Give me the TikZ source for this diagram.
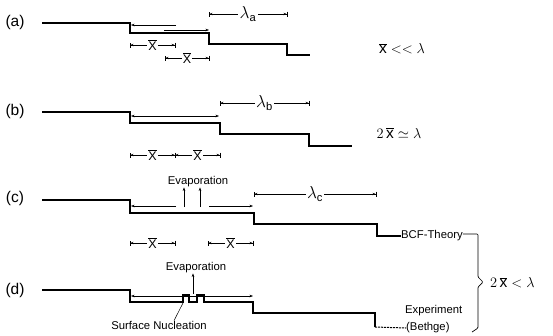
\documentclass[tikz,border=0pt]{standalone}
\usepackage{fontspec}
\setmainfont{Liberation Sans}
\usetikzlibrary{arrows.meta}
\tikzset{
  prof/.style={line width=1.3pt},
  thin arrow/.style={line width=0.5pt,-{Stealth[length=3.5pt,width=2.6pt]}},
  both arrow/.style={line width=0.5pt,{Stealth[length=3.5pt,width=2.6pt]}-{Stealth[length=3.5pt,width=2.6pt]}},
  dimline/.style={line width=0.5pt,{Bar[width=5pt]Stealth[length=3pt,width=2.4pt]}-{Stealth[length=3pt,width=2.4pt]Bar[width=5pt]}},
  dimlbl/.style={fill=white,inner sep=1pt,font=\fontsize{12.5}{13}\selectfont},
  lamlbl/.style={fill=white,inner sep=1.5pt,font=\fontsize{16}{17}\selectfont},
  lbl/.style={inner sep=0pt,font=\fontsize{11.3}{12}\selectfont},
  part/.style={inner sep=0pt,font=\fontsize{15.5}{17}\selectfont},
  rel/.style={inner sep=0pt,font=\fontsize{15.5}{16}\selectfont},
}
\newcommand{\xb}{$\overline{\mbox{X}}$}
\begin{document}
\begin{tikzpicture}[x=1pt,y=-1pt]
\useasboundingbox (0,0) rectangle (553,335);
% ---------------- (a)
\node[part] (la) at (15,22) {(a)};
\draw[prof] (42,23) -- (130,23) -- (130,33) -- (209,33) -- (209,44) -- (287,44) -- (287,55) -- (310,55);
\coordinate (a1s) at (176,25); \coordinate (a1e) at (131,25);
\coordinate (a2s) at (164,30); \coordinate (a2e) at (209,30);
\draw[thin arrow] (a1s) -- (a1e);
\draw[thin arrow] (a2s) -- (a2e);
\coordinate (ad1) at (130,45); \coordinate (ad2) at (175,45);
\coordinate (ad3) at (165,58); \coordinate (ad4) at (209,58);
\draw[dimline] (ad1) -- node[dimlbl] (xa1) {\xb} (ad2);
\draw[dimline] (ad3) -- node[dimlbl] (xa2) {\xb} (ad4);
\coordinate (lam1) at (209,14); \coordinate (lam2) at (287,14);
\draw[dimline] (lam1) -- node[lamlbl] (lama) {$\lambda_{\mathrm{a}}$} (lam2);
\node[rel] (ra) at (402,49) {$\overline{\mathrm{x}}<<\lambda$};
% ---------------- (b)
\node[part] (lb) at (15,111) {(b)};
\draw[prof] (42,112) -- (130,112) -- (130,123) -- (220,123) -- (220,134) -- (309,134) -- (309,146) -- (352,146);
\coordinate (b1s) at (131,116); \coordinate (b1e) at (219,116);
\draw[both arrow] (b1s) -- (b1e);
\coordinate (bd1) at (130,155); \coordinate (bd2) at (175,155); \coordinate (bd3) at (220,155);
\draw[dimline] (bd1) -- node[dimlbl] (xb1) {\xb} (bd2);
\draw[dimline] (bd2) -- node[dimlbl] (xb2) {\xb} (bd3);
\coordinate (lbm1) at (220,103); \coordinate (lbm2) at (309,103);
\draw[dimline] (lbm1) -- node[lamlbl] (lamb) {$\lambda_{\mathrm{b}}$} (lbm2);
\node[rel] (rb) at (399,133) {$2\,\overline{\mathrm{x}}\simeq\lambda$};
% ---------------- (c)
\node[part] (lc) at (15,198) {(c)};
\node[lbl,anchor=west] (bcf) at (401,236) {BCF-Theory};
\draw[prof] (42,200) -- (130,200) -- (130,213) -- (254,213) -- (254,224) -- (377,224) -- (377,236) -- (bcf.west);
\coordinate (c1s) at (176,206); \coordinate (c1e) at (131,206);
\coordinate (c2s) at (209,206); \coordinate (c2e) at (253,206);
\draw[thin arrow] (c1s) -- (c1e);
\draw[thin arrow] (c2s) -- (c2e);
\node[lbl] (evc) at (198,182) {Evaporation};
\coordinate (cu1) at (184,207); \coordinate (cu2) at (200,207);
\draw[thin arrow] (cu1) -- (cu1 |- evc.south) ;
\draw[thin arrow] (cu2) -- (cu2 |- evc.south);
\coordinate (cd1) at (130,243); \coordinate (cd2) at (175,243);
\coordinate (cd3) at (208,243); \coordinate (cd4) at (253,243);
\draw[dimline] (cd1) -- node[dimlbl] (xc1) {\xb} (cd2);
\draw[dimline] (cd3) -- node[dimlbl] (xc2) {\xb} (cd4);
\coordinate (lcm1) at (254,194); \coordinate (lcm2) at (376,194);
\draw[dimline] (lcm1) -- node[lamlbl] (lamc) {$\lambda_{\mathrm{c}}$} (lcm2);
% ---------------- (d)
\node[part] (ld) at (15,290) {(d)};
\node[lbl,anchor=west] (exp) at (405,311) {Experiment};
\node[lbl,anchor=west] (bet) at (406,328) {(Bethge)};
\draw[prof] (42,290) -- (130,290) -- (130,302) -- (183,302) -- (183,295) -- (189,295) -- (189,302)
  -- (197,302) -- (197,295) -- (204,295) -- (204,302) -- (253,302) -- (253,313) -- (375,313) -- (375,327);
\draw[line width=1pt,dash pattern=on 2pt off 1pt] (375,327) -- (bet.west);
\coordinate (d1s) at (131,296); \coordinate (d1e) at (253,296);
\draw[both arrow] (d1s) -- (d1e);
\node[lbl] (evd) at (196,268) {Evaporation};
\coordinate (du) at (193,294);
\draw[thin arrow] (du) -- (du |- evd.south);
\node[lbl] (nuc) at (159,325) {Surface Nucleation};
\coordinate (isl) at (183,303);
\draw[line width=0.5pt] (nuc.north -| 174,0) -- (isl);
% ---------------- brace
\draw[line width=0.7pt,rounded corners=1pt] (bcf.east) ++(0,-2) -- (478,234) -- (478,277) -- (483,282) -- (478,287) -- (478,328) -- (472,332);
\node[rel,anchor=west] (rcd) at (490,283) {$2\,\overline{\mathrm{x}}<\lambda$};
\end{tikzpicture}
\end{document}
